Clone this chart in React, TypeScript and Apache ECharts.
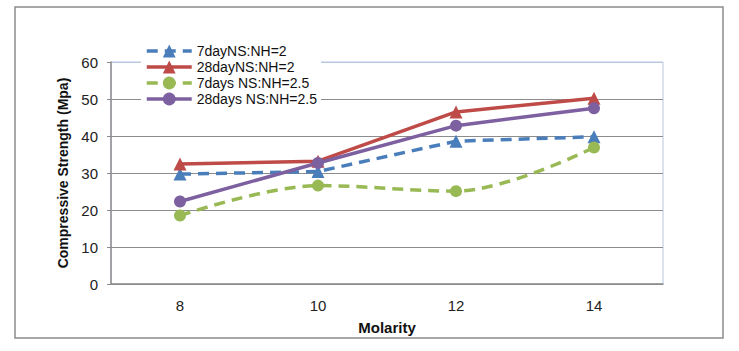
import React, { useEffect, useRef } from "react";
import * as echarts from "echarts";

const categories = ["8", "10", "12", "14"];
const yTicks = [0, 10, 20, 30, 40, 50, 60];
const seriesNames = ["7dayNS:NH=2", "28dayNS:NH=2", "7days NS:NH=2.5", "28days NS:NH=2.5"];
const day7Ratio2 = [29.7, 30.4, 38.6, 39.8];
const day28Ratio2 = [32.4, 33.2, 46.5, 50.2];
const day7Ratio25 = [18.5, 26.6, 25.1, 36.9];
const day28Ratio25 = [22.3, 32.7, 42.8, 47.5];

const FONT = "Liberation Sans";

export default function App() {
  const ref = useRef<HTMLDivElement>(null);
  useEffect(() => {
    if (!ref.current) return;
    const chart = echarts.init(ref.current, undefined, { renderer: "svg" });
    const mk = (name: string, data: number[], color: string, dashed: boolean, symbol: string, smooth: boolean | number) => ({
      name,
      type: "line",
      data,
      smooth,
      symbol,
      symbolSize: symbol === "triangle" ? 13 : 12,
      itemStyle: { color },
      lineStyle: { color, width: 3.5, type: dashed ? [11, 7] : "solid" },
    });
    const gridColors = yTicks.map((_, i) => (i === yTicks.length - 1 ? "#b9c8df" : "#8c8c8c"));
    chart.setOption({
      animation: false,
      backgroundColor: "#ffffff",
      textStyle: { fontFamily: FONT },
      graphic: [
        {
          type: "rect",
          shape: { x: 15, y: 7, width: 708, height: 331 },
          style: { fill: "none", stroke: "#8c8c8c", lineWidth: 1.5 },
          silent: true,
          z: -10,
        },
      ],
      grid: {
        left: 111,
        top: 62,
        width: 552,
        height: 222,
        show: true,
        borderColor: "#b9c8df",
        borderWidth: 1,
      },
      legend: {
        data: seriesNames,
        orient: "vertical",
        left: 141,
        top: 42,
        padding: [2, 4, 2, 4],
        itemWidth: 45,
        itemHeight: 16,
        itemGap: 2,
        backgroundColor: "#ffffff",
        lineStyle: { width: 3.5 },
        textStyle: { fontFamily: FONT, fontSize: 14, color: "#111" },
        z: 10,
      },
      xAxis: {
        type: "category",
        data: categories,
        boundaryGap: true,
        name: "Molarity",
        nameLocation: "middle",
        nameGap: 36,
        nameTextStyle: { fontFamily: FONT, fontSize: 15, fontWeight: "bold", color: "#111" },
        axisLine: { lineStyle: { color: "#8c8c8c", width: 1.5 } },
        axisTick: { alignWithLabel: true, length: 4, lineStyle: { color: "#8c8c8c" } },
        axisLabel: { fontFamily: FONT, fontSize: 15, color: "#222", margin: 14 },
      },
      yAxis: {
        type: "value",
        min: 0,
        max: 60,
        interval: 10,
        name: "Compressive Strength (Mpa)",
        nameLocation: "middle",
        nameGap: 39,
        nameTextStyle: { fontFamily: FONT, fontSize: 14, fontWeight: "bold", color: "#111" },
        axisLine: { show: true, lineStyle: { color: "#8c8c8c", width: 1.5 } },
        axisTick: { show: true, length: 4, lineStyle: { color: "#8c8c8c" } },
        axisLabel: { fontFamily: FONT, fontSize: 15, color: "#222", margin: 13 },
        splitLine: { show: true, lineStyle: { color: gridColors, width: 1.2 } },
      },
      series: [
        mk(seriesNames[0], day7Ratio2, "#4a7ebb", true, "triangle", false),
        mk(seriesNames[1], day28Ratio2, "#be4b48", false, "triangle", false),
        mk(seriesNames[2], day7Ratio25, "#98b954", true, "circle", 0.35),
        mk(seriesNames[3], day28Ratio25, "#7d60a0", false, "circle", false),
      ],
    });
    return () => chart.dispose();
  }, []);
  return <div ref={ref} style={{ position: "fixed", left: 0, top: 0, width: 739, height: 351 }} />;
}
